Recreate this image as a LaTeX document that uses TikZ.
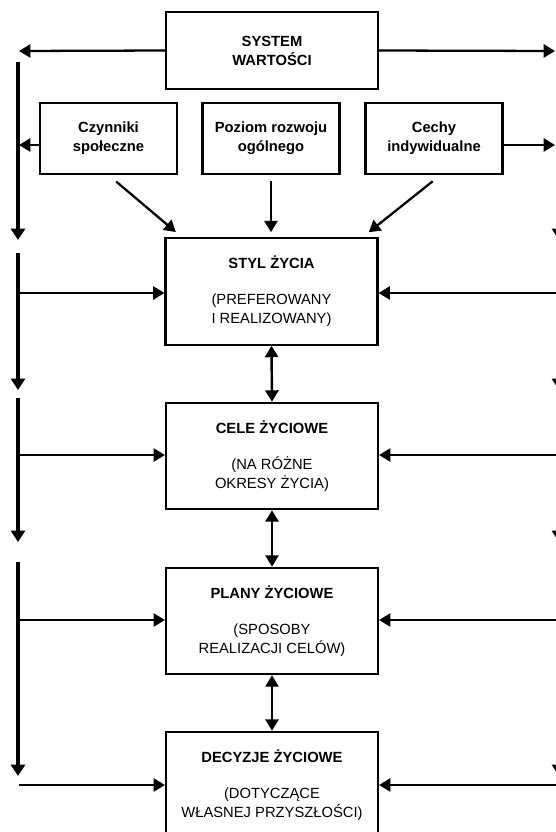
\documentclass[tikz,border=0pt]{standalone}
\usepackage{fontspec}
\setmainfont{Liberation Sans}
\usepackage{tikz}
\usetikzlibrary{arrows.meta, positioning, calc}
\newcommand{\boxfont}{\fontsize{8.4}{10.8}\selectfont}

\begin{document}
\begin{tikzpicture}[x=0.02cm, y=-0.02cm,
  box/.style={draw, line width=1.2pt, align=center, inner sep=2pt, font=\boxfont},
  smallbox/.style={box, font=\boxfont\bfseries, minimum width=2.74cm, minimum height=1.42cm},
  stagebox/.style={box, minimum width=4.24cm, minimum height=2.13cm},
  arr/.style={-{Triangle[length=6.5pt,width=7.5pt]}, line width=1.3pt},
  rail/.style={-{Triangle[length=6.5pt,width=8pt]}, line width=1.8pt},
  twoway/.style={{Triangle[length=6.5pt,width=7.5pt]}-{Triangle[length=6.5pt,width=7.5pt]}, line width=1.4pt}]
  \useasboundingbox (0,0) rectangle (555,832);

  \node[box, font=\boxfont\bfseries, minimum width=4.24cm, minimum height=1.54cm] (sys) at (272,50.5) {SYSTEM\\WARTOŚCI};
  \node[smallbox] (czyn) at (108.5,138.5) {Czynniki\\społeczne};
  \node[smallbox] (poz) at (271,138.5) {Poziom rozwoju\\ogólnego};
  \node[smallbox] (cech) at (434,138.5) {Cechy\\indywidualne};

  \node[stagebox] (styl) at (271.5,291.5) {\textbf{STYL ŻYCIA}\\[9.6pt](PREFEROWANY\\I REALIZOWANY)};
  \node[stagebox] (cele) at (272,456) {\textbf{CELE ŻYCIOWE}\\[9.6pt](NA RÓŻNE\\OKRESY ŻYCIA)};
  \node[stagebox] (plany) at (272,621) {\textbf{PLANY ŻYCIOWE}\\[9.6pt](SPOSOBY\\REALIZACJI CELÓW)};
  \node[stagebox] (decyz) at (272,785) {\textbf{DECYZJE ŻYCIOWE}\\[9.6pt](DOTYCZĄCE\\WŁASNEJ PRZYSZŁOŚCI)};

  \coordinate (lsys) at (19,51);
  \coordinate (rsys) at (555,51);
  \coordinate (lczyn) at (19,145);
  \coordinate (rcech) at (555,145);
  \draw[arr] (sys.west) -- (lsys);
  \draw[arr] (sys.east) -- (rsys);
  \draw[arr] (czyn.west |- lczyn) -- (lczyn);
  \draw[arr] (cech.east |- rcech) -- (rcech);

  \draw[arr, shorten <=0.2cm, shorten >=0.16cm] (czyn.south) -- ([xshift=0.35cm]styl.north west);
  \draw[arr, shorten <=0.12cm, shorten >=0.1cm] (poz.south) -- (poz.south |- styl.north);
  \draw[arr, shorten <=0.2cm, shorten >=0.16cm] ([xshift=0.13cm]cech.south) -- ([xshift=-0.32cm]styl.north east);

  \draw[twoway] (styl.south) -- (cele.north);
  \draw[twoway] (cele.south) -- (plany.north);
  \draw[twoway] (plany.south) -- (decyz.north);

  \foreach \a/\b [count=\i] in {62/240, 253/390, 398/542, 562/776} {
    \coordinate (ls\i) at (18,\a);
    \coordinate (le\i) at (18,\b);
    \coordinate (rs\i) at (559,\a);
    \coordinate (re\i) at (559,\b);
    \draw[rail] (ls\i) -- (le\i);
    \draw[rail] (rs\i) -- (re\i);
  }

  \foreach \n/\y in {styl/293, cele/455, plany/620, decyz/785} {
    \coordinate (l\n) at (19,\y);
    \coordinate (r\n) at (559,\y);
    \draw[arr] (l\n) -- (\n.west |- l\n);
    \draw[arr] (r\n) -- (\n.east |- r\n);
  }
\end{tikzpicture}
\end{document}
